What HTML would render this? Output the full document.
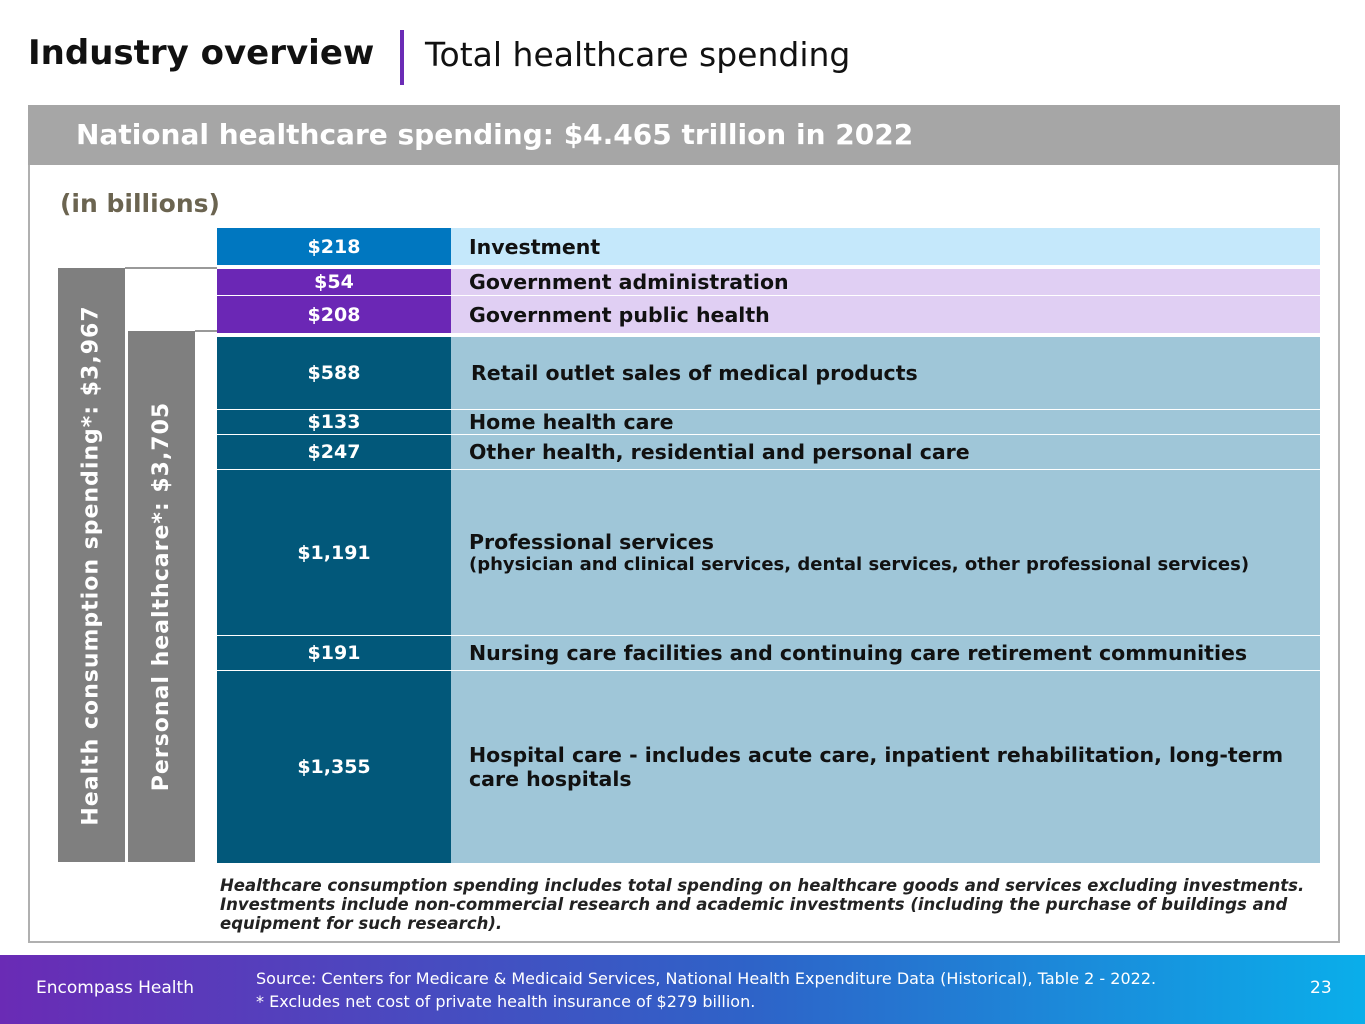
<!DOCTYPE html>
<html><head><meta charset="utf-8"><style>
body{margin:0;width:1365px;height:1024px;position:relative;overflow:hidden;background:#fff;font-family:"DejaVu Sans","Liberation Sans",sans-serif;}
.a{position:absolute;box-sizing:border-box;}
.l{color:#fff;font-weight:bold;font-size:19px;display:flex;align-items:center;justify-content:center;}
.r{color:#111;font-weight:bold;font-size:20.5px;display:flex;flex-direction:column;justify-content:center;padding-left:18px;line-height:24px;}
.v{color:#fff;font-weight:bold;font-size:22px;display:flex;align-items:center;justify-content:center;background:#7f7f7f;}
.v span{transform:rotate(-90deg);white-space:nowrap;letter-spacing:1px;}
</style></head><body>
<div class="a" style="left:28px;top:33px;font-size:34px;font-weight:bold;color:#111;">Industry overview</div>
<div class="a" style="left:400px;top:30px;width:4px;height:55px;background:#6b2bb5;"></div>
<div class="a" style="left:425px;top:35px;font-size:33px;color:#111;">Total healthcare spending</div>
<div class="a" style="left:28px;top:105px;width:1312px;height:838px;border:2px solid #b0b0b0;"></div>
<div class="a" style="left:28px;top:105px;width:1312px;height:60px;background:#a6a6a6;color:#fff;font-weight:bold;font-size:28px;padding:13px 0 0 48px;">National healthcare spending: $4.465 trillion in 2022</div>
<div class="a" style="left:60px;top:189px;font-size:25px;font-weight:bold;color:#6b6450;">(in billions)</div>

<div class="a v" style="left:58px;top:268px;width:67px;height:594px;"><span>Health consumption spending*: $3,967</span></div>
<div class="a v" style="left:128px;top:331px;width:67px;height:531px;"><span>Personal healthcare*: $3,705</span></div>
<div class="a" style="left:125px;top:267px;width:92px;height:2px;background:#999;"></div>
<div class="a" style="left:195px;top:330px;width:22px;height:2px;background:#999;"></div>

<div class="a l" style="left:217px;top:228px;width:234px;height:37px;background:#0077c0;">$218</div>
<div class="a r" style="left:451px;top:228px;width:869px;height:37px;background:#c5e8fb;">Investment</div>
<div class="a l" style="left:217px;top:269px;width:234px;height:26px;background:#6b27b5;">$54</div>
<div class="a r" style="left:451px;top:269px;width:869px;height:26px;background:#e0cff3;">Government administration</div>
<div class="a l" style="left:217px;top:296px;width:234px;height:37px;background:#6b27b5;">$208</div>
<div class="a r" style="left:451px;top:296px;width:869px;height:37px;background:#e0cff3;">Government public health</div>

<div class="a l" style="left:217px;top:337px;width:234px;height:72px;background:#02587a;">$588</div>
<div class="a r" style="left:451px;top:337px;width:869px;height:72px;background:#9fc6d8;padding-left:20px;">Retail outlet sales of medical products</div>
<div class="a l" style="left:217px;top:410px;width:234px;height:24px;background:#02587a;">$133</div>
<div class="a r" style="left:451px;top:410px;width:869px;height:24px;background:#9fc6d8;">Home health care</div>
<div class="a l" style="left:217px;top:435px;width:234px;height:34px;background:#02587a;">$247</div>
<div class="a r" style="left:451px;top:435px;width:869px;height:34px;background:#9fc6d8;">Other health, residential and personal care</div>
<div class="a l" style="left:217px;top:470px;width:234px;height:165px;background:#02587a;">$1,191</div>
<div class="a r" style="left:451px;top:470px;width:869px;height:165px;background:#9fc6d8;">Professional services<span style="font-size:18px;line-height:22px;">(physician and clinical services, dental services, other professional services)</span></div>
<div class="a l" style="left:217px;top:636px;width:234px;height:34px;background:#02587a;">$191</div>
<div class="a r" style="left:451px;top:636px;width:869px;height:34px;background:#9fc6d8;">Nursing care facilities and continuing care retirement communities</div>
<div class="a l" style="left:217px;top:671px;width:234px;height:192px;background:#02587a;">$1,355</div>
<div class="a r" style="left:451px;top:671px;width:869px;height:192px;background:#9fc6d8;">Hospital care - includes acute care, inpatient rehabilitation, long-term care hospitals</div>

<div class="a" style="left:220px;top:876px;width:1100px;font-size:16.5px;font-style:italic;font-weight:bold;color:#222;line-height:19px;">Healthcare consumption spending includes total spending on healthcare goods and services excluding investments. Investments include non-commercial research and academic investments (including the purchase of buildings and equipment for such research).</div>

<div class="a" style="left:0;top:955px;width:1365px;height:69px;background:linear-gradient(90deg,#6a2bb5,#2e63c8 55%,#0aaeea);"></div>
<div class="a" style="left:36px;top:978px;font-size:17px;color:#fff;">Encompass Health</div>
<div class="a" style="left:256px;top:967px;font-size:16px;color:#fff;line-height:23px;">Source: Centers for Medicare &amp; Medicaid Services, National Health Expenditure Data (Historical), Table 2 - 2022.<br>* Excludes net cost of private health insurance of $279 billion.</div>
<div class="a" style="left:1310px;top:978px;font-size:17px;color:#fff;">23</div>
</body></html>
